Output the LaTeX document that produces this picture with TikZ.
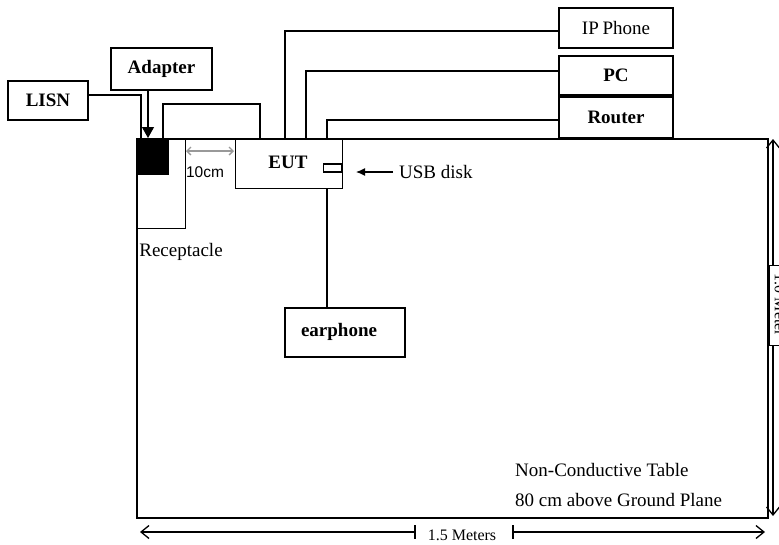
\documentclass[tikz,border=0pt]{standalone}
\usepackage{fontspec}
\setmainfont{Liberation Serif}
\newfontfamily\arialf{Liberation Sans}
\usetikzlibrary{arrows.meta}
\begin{document}
\begin{tikzpicture}[x=1pt,y=-1pt,
  box/.style={draw,line width=1.1pt,inner sep=0pt,font=\fontsize{19}{22}\selectfont\bfseries},
  plainbox/.style={draw,line width=1.1pt,inner sep=0pt,font=\fontsize{19}{22}\selectfont},
  wire/.style={line width=1.2pt},
  lbl/.style={inner sep=0pt,font=\fontsize{19}{22}\selectfont},
  dimarrow/.style={line width=1.2pt},
  barb/.tip={Straight Barb[length=8pt,width=13pt,line width=1.3pt]}
]
\useasboundingbox (0,0) rectangle (779,544);
% table
\node[draw,line width=2pt,minimum width=631pt,minimum height=379pt,inner sep=0pt,anchor=north west] (table) at (136,138) {};
% boxes
\node[box,minimum width=80pt,minimum height=39pt] (lisn) at (48,100.5) {LISN};
\node[box,minimum width=101pt,minimum height=42pt] (adapter) at (161.5,69) {Adapter};
\node[plainbox,minimum width=114pt,minimum height=40pt] (ip) at (616,28) {IP\kern-1pt\ Phone};
\node[box,minimum width=114pt,minimum height=39pt] (pc) at (616,75.5) {PC};
\node[box,minimum width=114pt,minimum height=41pt] (router) at (616,117.5) {Router};
\node[draw,line width=1.1pt,minimum width=107pt,minimum height=50pt,inner sep=0pt,anchor=north west] (eut) at (235,138) {};
\node[lbl,font=\fontsize{19}{22}\selectfont\bfseries] (euttext) at (288,162) {EUT};
\node[draw,line width=1.1pt,minimum width=120pt,minimum height=49pt,inner sep=0pt] (ear) at (345,332.5) {};
\node[lbl,font=\fontsize{19}{22}\selectfont\bfseries] (eartext) at (339,332) {earphone};
% receptacle
\node[draw,line width=1.1pt,minimum width=49pt,minimum height=90pt,inner sep=0pt,anchor=north west] (rec) at (136,138) {};
\node[fill=black,minimum width=33pt,minimum height=37pt,inner sep=0pt,anchor=north west] (plug) at (136,138) {};
\node[lbl] (reclbl) at (181,252) {Receptacle};
% usb slot
\node[draw,line width=1.1pt,minimum width=18pt,minimum height=8pt,inner sep=0pt,anchor=east] (usb) at (342,168) {};
\node[lbl,anchor=west] (usblbl) at (399,172) {USB disk};
\coordinate (usbtip) at (356,172);
\draw[wire,-{Latex[length=9pt,width=8pt]}] (usblbl.west) ++(-6,0) coordinate (usbstart) -- (usbtip);
% 10 cm
\coordinate (tena) at (186,151);
\coordinate (tenb) at (234,151);
\draw[gray!80,line width=1.4pt,{Straight Barb[length=4pt,width=8pt]}-{Straight Barb[length=4pt,width=8pt]}] (tena) -- (tenb);
\node[inner sep=0pt,font=\arialf\fontsize{15.5}{18}\selectfont] (tenlbl) at (205,172) {10cm};
% connectors
\coordinate (lisnend) at (141,138);
\draw[wire] ([yshift=5.5pt]lisn.east) -| (lisnend);
\coordinate (adend) at (148,138);
\draw[wire,-{Triangle[length=11pt,width=12pt]}] (adapter.south -| adend) -- (adend);
\coordinate (loopa) at (163,138);
\coordinate (loopb) at (260,138);
\draw[wire] (loopa) -- (163,104) -- (260,104) -- (loopb);
\coordinate (ipend) at (285,138);
\draw[wire] ([yshift=-3pt]ip.west) -| (ipend);
\coordinate (pcend) at (306,138);
\draw[wire] ([yshift=4.5pt]pc.west) -| (pcend);
\coordinate (rtend) at (327,138);
\draw[wire] ([yshift=-2.5pt]router.west) -| (rtend);
\draw[wire] (eut.south -| ear.north -| 327,0) -- (ear.north -| 327,0);
% table text
\node[lbl,anchor=west] (nc1) at (515,470) {Non-Conductive Table};
\node[lbl,anchor=west] (nc2) at (515,500) {80 cm above Ground Plane};
% bottom dimension
\node[inner sep=0pt,font=\fontsize{16}{18}\selectfont] (wlbl) at (462,535) {1.5 Meters};
\coordinate (wl) at (140,532);
\coordinate (wr) at (765,532);
\coordinate (tl) at (415,532);
\coordinate (tr) at (513,532);
\draw[dimarrow,barb-] (wl) -- (tl);
\draw[dimarrow] (415,525) -- (415,539);
\draw[dimarrow,-barb] (tr) -- (wr);
\draw[dimarrow] (513,525) -- (513,539);
% right dimension
\coordinate (ht) at (773,139);
\coordinate (hb) at (773,516);
\draw[dimarrow,barb-barb] (ht) -- (hb);
\node[fill=white,draw,line width=1pt,minimum width=80pt,minimum height=22pt,inner sep=0pt,rotate=-90,font=\fontsize{16}{18}\selectfont] (hlbl) at (780,305) {1.0 Meter};
\end{tikzpicture}
\end{document}
